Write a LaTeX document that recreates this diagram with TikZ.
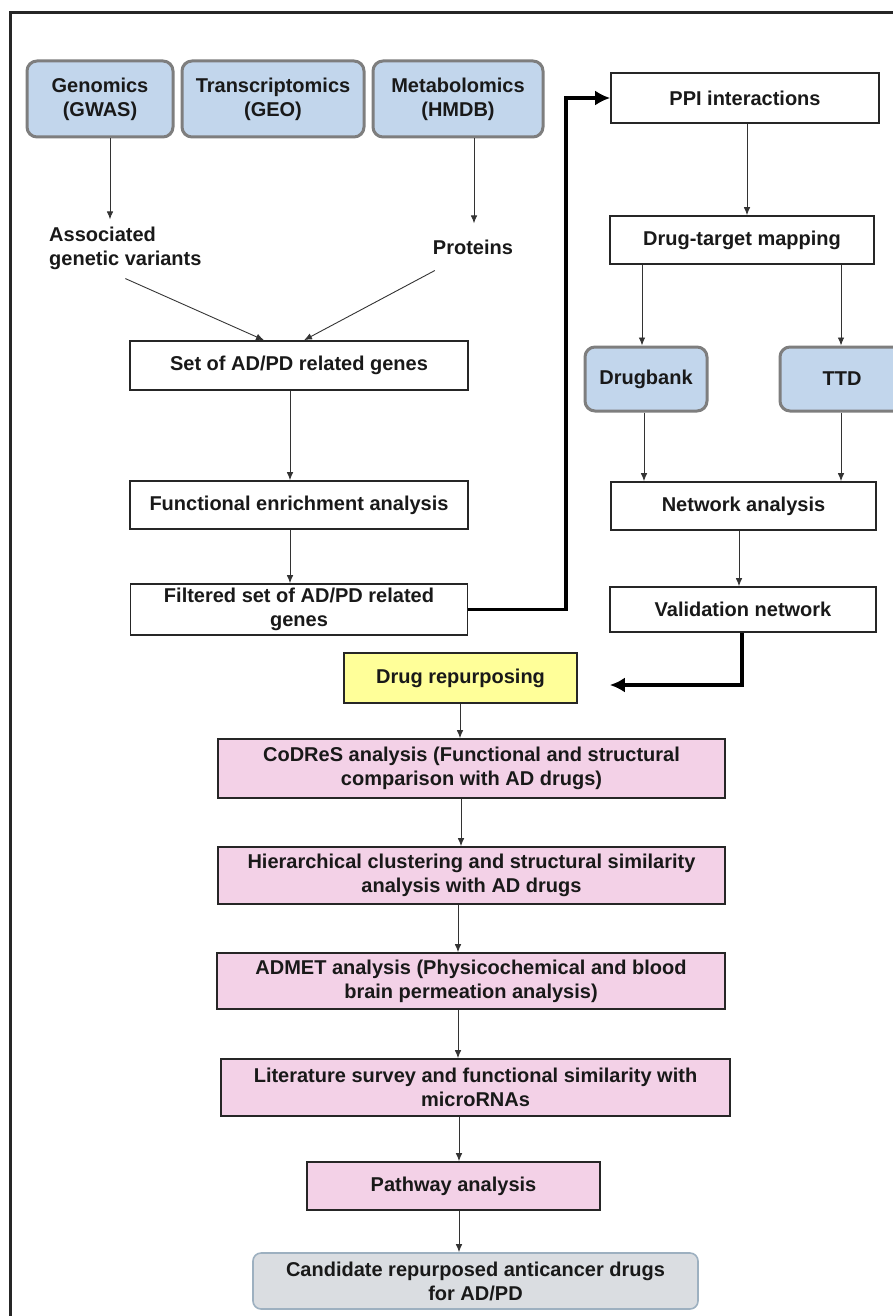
\documentclass[tikz,border=0pt]{standalone}
\usepackage{fontspec}
\setmainfont{Liberation Sans}
\usetikzlibrary{arrows.meta,calc}
\definecolor{dbblue}{HTML}{C2D6EC}
\definecolor{dbedge}{HTML}{7E7E7E}
\definecolor{steppink}{HTML}{F3D1E7}
\definecolor{repyellow}{HTML}{FFFF99}
\definecolor{resgray}{HTML}{DADDE1}
\definecolor{resedge}{HTML}{9DB0C0}
\begin{document}
\begin{tikzpicture}[x=1pt,y=-1pt,
  every node/.style={font=\bfseries\fontsize{20}{24}\selectfont, text=black!90, align=center},
  plainbox/.style={draw=black!85, line width=1.6pt, fill=white, inner sep=2pt},
  dbbox/.style={draw=dbedge, line width=3pt, fill=dbblue, rounded corners=10pt, inner sep=2pt},
  pinkbox/.style={draw=black!85, line width=1.6pt, fill=steppink, inner sep=2pt},
  repbox/.style={draw=black!85, line width=1.6pt, fill=repyellow, inner sep=2pt},
  resbox/.style={draw=resedge, line width=1.6pt, fill=resgray, rounded corners=8pt, inner sep=2pt},
  label/.style={inner sep=0pt},
  arr/.style={-{Latex[length=8pt,width=6.5pt]}, line width=0.9pt, draw=black!80},
  bigarr/.style={-{Latex[length=15pt,width=15pt]}, line width=3.5pt, draw=black},
]
\useasboundingbox (0,0) rectangle (892,1316);

% frame (top and left edges)
\draw[line width=3pt, black!85] (10,1330) -- (10,13) -- (900,13);

% data sources
\node[dbbox, minimum width=146pt, minimum height=76pt] (gen) at (100,99) {Genomics\\(GWAS)};
\node[dbbox, minimum width=182pt, minimum height=76pt] (tra) at (273,99) {Transcriptomics\\(GEO)};
\node[dbbox, minimum width=170pt, minimum height=76pt] (met) at (458,99) {Metabolomics\\(HMDB)};

% intermediate labels
\node[label, align=left, anchor=west] (assoc) at (49,248) {Associated\\genetic variants};
\node[label] (prot) at (473,247) {Proteins};

% left column
\node[plainbox, minimum width=338pt, minimum height=49pt] (set) at (299,365.5) {Set of AD/PD related genes};
\node[plainbox, minimum width=338pt, minimum height=48pt] (fea) at (299,505) {Functional enrichment analysis};
\node[plainbox, minimum width=337pt, minimum height=51pt] (fil) at (299,609.5) {Filtered set of AD/PD related\\genes};

% right column
\node[plainbox, minimum width=268pt, minimum height=50pt] (ppi) at (745,98) {PPI interactions};
\node[plainbox, minimum width=264pt, minimum height=48pt] (dtm) at (742,240) {Drug-target mapping};
\node[dbbox, minimum width=122pt, minimum height=64pt] (dbk) at (646,379) {Drugbank};
\node[dbbox, minimum width=124pt, minimum height=64pt] (ttd) at (842,379) {TTD};
\node[plainbox, minimum width=265pt, minimum height=48pt] (net) at (743.5,506) {Network analysis};
\node[plainbox, minimum width=266pt, minimum height=45pt] (val) at (743,609.5) {Validation network};

% repurposing pipeline
\node[repbox, minimum width=233pt, minimum height=50pt] (rep) at (460.5,678) {Drug repurposing};
\node[pinkbox, minimum width=507pt, minimum height=59pt] (cod) at (471.5,768.5) {CoDReS analysis (Functional and structural\\comparison with AD drugs)};
\node[pinkbox, minimum width=507pt, minimum height=57pt] (hie) at (471.5,875.5) {Hierarchical clustering and structural similarity\\analysis with AD drugs};
\node[pinkbox, minimum width=508pt, minimum height=56pt] (adm) at (471,981) {ADMET analysis (Physicochemical and blood\\brain permeation analysis)};
\node[pinkbox, minimum width=509pt, minimum height=57pt] (lit) at (475.5,1087.5) {Literature survey and functional similarity with\\microRNAs};
\node[pinkbox, minimum width=293pt, minimum height=48pt] (pat) at (453.5,1186) {Pathway analysis};
\node[resbox, minimum width=445pt, minimum height=56pt] (can) at (475.5,1281) {Candidate repurposed anticancer drugs\\for AD/PD};

% thin connectors
\draw[arr, shorten >=7pt] (110,0 |- gen.south) -- (110,0 |- assoc.north);
\draw[arr, shorten >=16pt] (474,0 |- met.south) -- (474,0 |- prot.north);
\draw[arr] ($(assoc.south)+(0,9)$) -- (264,0 |- set.north);
\draw[arr] ($(prot.south west)+(2,16)$) -- (304,0 |- set.north);
\draw[arr] (290,0 |- set.south) -- (290,0 |- fea.north);
\draw[arr] (290,0 |- fea.south) -- (290,0 |- fil.north);
\draw[arr] (747,0 |- ppi.south) -- (747,0 |- dtm.north);
\draw[arr] (642,0 |- dtm.south) -- (642,0 |- dbk.north);
\draw[arr] (841,0 |- dtm.south) -- (841,0 |- ttd.north);
\draw[arr] (644,0 |- dbk.south) -- (644,0 |- net.north);
\draw[arr] (841,0 |- ttd.south) -- (841,0 |- net.north);
\draw[arr] (739,0 |- net.south) -- (739,0 |- val.north);
\draw[arr] (460,0 |- rep.south) -- (460,0 |- cod.north);
\draw[arr] (461,0 |- cod.south) -- (461,0 |- hie.north);
\draw[arr] (458,0 |- hie.south) -- (458,0 |- adm.north);
\draw[arr] (458,0 |- adm.south) -- (458,0 |- lit.north);
\draw[arr] (459,0 |- lit.south) -- (459,0 |- pat.north);
\draw[arr] (459,0 |- pat.south) -- (459,0 |- can.north);

% thick connectors
\draw[bigarr] (fil.east) -- (566,0 |- fil.east) -- (566,0 |- ppi.west) -- (ppi.west);
\draw[bigarr, shorten >=32pt] (742,0 |- val.south) |- ($(rep.east)+(0,7)$);
\end{tikzpicture}
\end{document}
